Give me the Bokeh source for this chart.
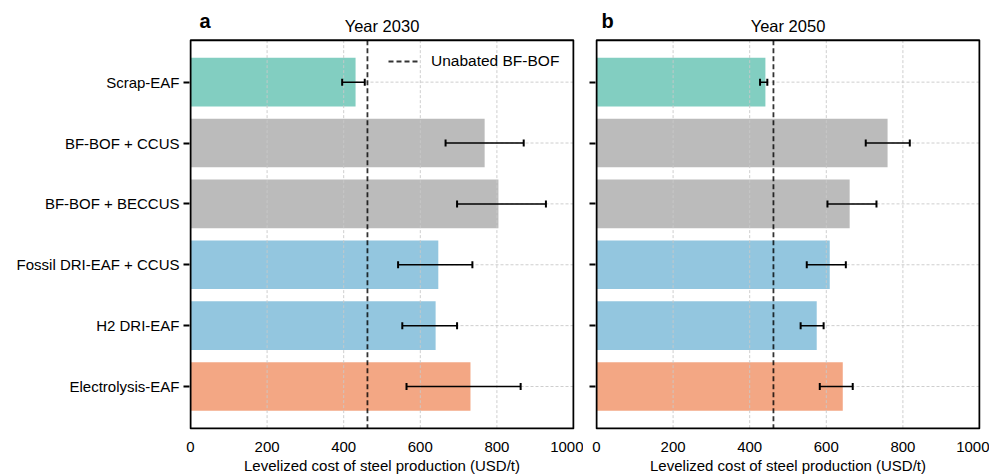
from bokeh.plotting import figure
from bokeh.models import (Range1d, FixedTicker, ColumnDataSource, Whisker, TeeHead,
                          Legend, LegendItem)
from bokeh.core.properties import value
from bokeh.layouts import row
from bokeh.embed import file_html
from bokeh.resources import INLINE

# ---------------- data ----------------
categories = ["Scrap-EAF", "BF-BOF + CCUS", "BF-BOF + BECCUS",
              "Fossil DRI-EAF + CCUS", "H2 DRI-EAF", "Electrolysis-EAF"]
cost_2030 = [431, 768, 804, 647, 640, 731]
low_2030 = [396, 666, 696, 542, 553, 564]
high_2030 = [455, 870, 928, 736, 696, 862]
cost_2050 = [441, 760, 661, 609, 575, 643]
low_2050 = [427, 703, 603, 549, 533, 583]
high_2050 = [446, 818, 731, 651, 593, 669]
unabated_bf_bof = 462
bar_colors = ["#82CEC1", "#BBBBBB", "#BBBBBB", "#93C6DF", "#93C6DF", "#F3A784"]
x_ticks = [0, 200, 400, 600, 800, 1000]
x_max = 1000

FONT = "Liberation Sans"
FS = "15px"

# ---------------- layout constants (pixels) ----------------
H = 476           # figure height
HEAD = 40         # space above the axes box (title / panel letter)
BOX_H = 392       # height of the axes box
BOX_W = 383       # width of the axes box
PAD = 1           # 1px slack so the box outline is not clipped
BOTTOM = H - HEAD - BOX_H - PAD


def make_panel(letter, letter_dx, title, cost, low, high, show_labels, show_legend,
               width, border_left):
    n = len(categories)
    ypos = list(range(n))
    y_lo, y_hi = -0.69, n - 1 + 0.69            # data extent of the axes box
    uy = (y_hi - y_lo) / BOX_H                  # data units per pixel (y)
    ux = x_max / BOX_W                          # data units per pixel (x)
    p = figure(width=width, height=H, output_backend="svg", toolbar_location=None,
               x_range=Range1d(-PAD * ux, x_max + PAD * ux),
               y_range=Range1d(y_hi + PAD * uy, y_lo - HEAD * uy),
               min_border_left=border_left,
               min_border_right=width - border_left - BOX_W - 2 * PAD,
               min_border_top=0, min_border_bottom=BOTTOM)
    p.outline_line_color = None
    p.grid.visible = False

    src = ColumnDataSource(dict(y=ypos, cost=cost, low=low, high=high,
                                color=bar_colors, cat=categories))

    # horizontal grid (below bars)
    p.segment(x0=0, x1=x_max, y0=ypos, y1=ypos, line_color="#c8c8c8",
              line_width=0.9, line_dash="3 2")

    p.hbar(y="y", left=0, right="cost", height=0.8, fill_color="color",
           line_color=None, source=src)

    # vertical grid (drawn over the bars, as in the reference)
    inner = x_ticks[1:-1]
    p.segment(x0=inner, x1=inner, y0=y_lo, y1=y_hi, line_color="#c8c8c8",
              line_width=0.9, line_dash="3 2")

    vl = p.segment(x0=unabated_bf_bof, x1=unabated_bf_bof, y0=y_lo, y1=y_hi,
                   line_color="black", line_alpha=0.8, line_width=1.8,
                   line_dash="5 3")

    w = Whisker(source=src, base="y", lower="low", upper="high", dimension="width",
                line_color="black", line_width=1.5, level="annotation",
                lower_head=TeeHead(size=7, line_width=2, line_color="black"),
                upper_head=TeeHead(size=7, line_width=2, line_color="black"))
    p.add_layout(w)

    # axes box
    p.quad(left=0, right=x_max, top=y_lo, bottom=y_hi, fill_color=None,
           line_color="black", line_width=2)

    # title and panel letter above the box
    p.text(x=[x_max / 2], y=[y_lo], y_offset=-14.1, text=[title],
           text_font=value(FONT), text_font_size=value("16.5px"),
           text_color="black", text_align="center", text_baseline="middle")
    p.text(x=[0], y=[y_lo], x_offset=letter_dx, y_offset=-19.3, text=[letter],
           text_font=value(FONT), text_font_size=value("20px"), text_font_style="bold",
           text_color="black", text_align="left", text_baseline="middle")

    # x axis
    xa = p.xaxis[0]
    xa.ticker = FixedTicker(ticks=x_ticks)
    xa.axis_line_color = None
    xa.major_tick_out = 0
    xa.major_tick_in = 0
    xa.minor_tick_line_color = None
    xa.major_label_text_font = FONT
    xa.major_label_text_font_size = FS
    xa.major_label_text_color = "black"
    xa.major_label_standoff = 12
    xa.axis_label = "Levelized cost of steel production (USD/t)"
    xa.axis_label_text_font = FONT
    xa.axis_label_text_font_size = FS
    xa.axis_label_text_font_style = "normal"
    xa.axis_label_text_color = "black"
    xa.axis_label_standoff = 2

    # y axis
    ya = p.yaxis[0]
    ya.ticker = FixedTicker(ticks=ypos)
    ya.axis_line_color = None
    ya.major_tick_out = 6
    ya.major_tick_in = 0
    ya.major_tick_line_width = 2
    ya.major_tick_line_color = "black"
    ya.minor_tick_line_color = None
    ya.major_label_text_font = FONT
    ya.major_label_text_font_size = FS
    ya.major_label_text_color = "black"
    ya.major_label_standoff = 4
    if show_labels:
        ya.major_label_overrides = {i: c for i, c in enumerate(categories)}
    else:
        ya.major_label_overrides = {i: "" for i in ypos}

    if show_legend:
        leg = Legend(items=[LegendItem(label="Unabated BF-BOF", renderers=[vl])],
                     location=(199, BOX_H + PAD - 20 - 14))
        leg.background_fill_alpha = 0
        leg.border_line_color = None
        leg.label_text_font = FONT
        leg.label_text_font_size = "15.5px"
        leg.label_text_color = "black"
        leg.glyph_width = 30
        leg.glyph_height = 16
        leg.label_height = 16
        leg.label_standoff = 13
        leg.padding = 4
        leg.margin = 0
        leg.spacing = 0
        p.add_layout(leg)
    return p


pa = make_panel("a", 9, "Year 2030", cost_2030, low_2030, high_2030, True, True,
                width=583, border_left=189)
pb = make_panel("b", 5, "Year 2050", cost_2050, low_2050, high_2050, False, False,
                width=406, border_left=12)

layout = row(pa, pb, spacing=0)
open("out.html", "w").write(file_html(layout, INLINE))
